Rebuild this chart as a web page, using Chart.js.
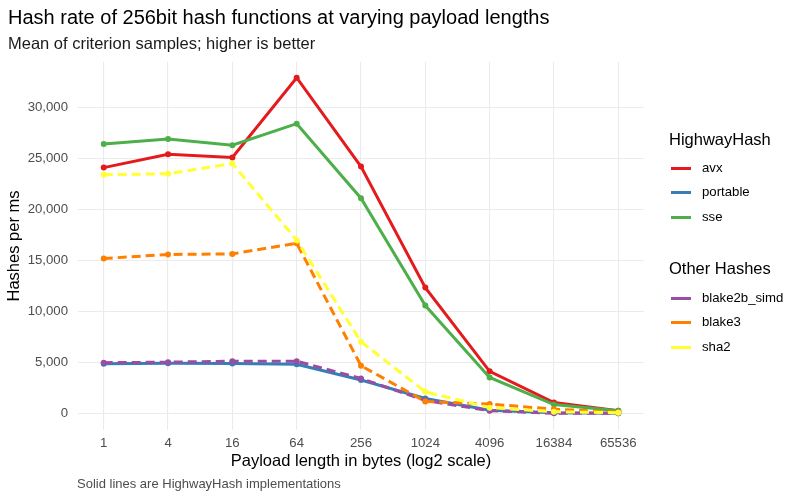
<!DOCTYPE html>
<html>
<head>
<meta charset="utf-8">
<script src="https://cdn.jsdelivr.net/npm/chart.js@4/dist/chart.umd.min.js"></script>
<style>
  html, body { margin: 0; padding: 0; background: #fff; }
  #wrap { position: relative; width: 800px; height: 500px; font-family: "Liberation Sans", Arial, sans-serif; }
  #c { position: absolute; left: 0; top: 0; }
  .t { position: absolute; white-space: nowrap; line-height: 1; }
  .key { position: absolute; width: 20px; height: 3px; }
</style>
</head>
<body>
<div id="wrap">
  <canvas id="c" width="800" height="500"></canvas>
  <div class="t" style="left:8px;top:7px;font-size:20px;color:#000;">Hash rate of 256bit hash functions at varying payload lengths</div>
  <div class="t" style="left:8px;top:35px;font-size:16.5px;color:#1a1a1a;">Mean of criterion samples; higher is better</div>
  <div class="t" style="left:77px;top:477px;font-size:13px;color:#4d4d4d;">Solid lines are HighwayHash implementations</div>
  <div id="legend"></div>
</div>
<script>
// ---- data ----
const payloadLengths = [1, 4, 16, 64, 256, 1024, 4096, 16384, 65536];
const yTickValues = [0, 5000, 10000, 15000, 20000, 25000, 30000];

const avx          = [24100, 25400, 25100, 32900, 24200, 12350, 4150, 1100, 300];
const portable     = [4900, 4950, 4920, 4850, 3300, 1500, 350, 100, 50];
const sse          = [26400, 26900, 26300, 28400, 21100, 10600, 3550, 900, 300];
const blake2b_simd = [5000, 5050, 5150, 5150, 3450, 1300, 300, 50, 50];
const blake3       = [15200, 15600, 15650, 16700, 4700, 1200, 950, 450, 150];
const sha2         = [23400, 23500, 24500, 17000, 7050, 2150, 600, 200, 100];

const seriesNames  = ["avx", "portable", "sse", "blake2b_simd", "blake3", "sha2"];
const seriesGroups = ["HighwayHash", "HighwayHash", "HighwayHash", "Other Hashes", "Other Hashes", "Other Hashes"];
const seriesValues = [avx, portable, sse, blake2b_simd, blake3, sha2];
const seriesColors = ["#E41A1C", "#377EB8", "#4DAF4A", "#984EA3", "#FF7F00", "#FFFF33"];

// ---- chart ----
const n = seriesNames.length;
const datasets = seriesNames.map((name, i) => ({
  label: name,
  data: payloadLengths.map((p, j) => ({ x: Math.log2(p), y: seriesValues[i][j] })),
  borderColor: seriesColors[i],
  backgroundColor: seriesColors[i],
  borderWidth: 3,
  borderDash: seriesGroups[i] === "HighwayHash" ? [] : [9, 5],
  pointRadius: 3,
  pointHoverRadius: 3,
  pointBorderWidth: 0,
  tension: 0,
  order: n - i
}));

Chart.defaults.font.family = '"Liberation Sans", Arial, sans-serif';

new Chart(document.getElementById('c'), {
  type: 'line',
  data: { datasets },
  options: {
    responsive: false,
    animation: false,
    layout: { padding: { top: 62, right: 156, bottom: 29, left: 0 } },
    plugins: { legend: { display: false }, tooltip: { enabled: false } },
    scales: {
      x: {
        type: 'linear',
        min: -0.8,
        max: 16.8,
        afterBuildTicks: s => { s.ticks = payloadLengths.map(p => ({ value: Math.log2(p) })); },
        afterFit: s => { s.height = 41; },
        ticks: {
          color: '#4d4d4d',
          font: { size: 13.2 },
          padding: 5,
          maxRotation: 0,
          autoSkip: false,
          callback: v => { const i = payloadLengths.findIndex(p => Math.abs(Math.log2(p) - v) < 1e-6); return i >= 0 ? String(payloadLengths[i]) : ''; }
        },
        grid: { color: '#ebebeb', lineWidth: 1.1, drawTicks: false },
        border: { display: false },
        title: { display: true, text: 'Payload length in bytes (log2 scale)', color: '#000', font: { size: 16.5 }, padding: { top: 0, bottom: 0 } }
      },
      y: {
        type: 'linear',
        min: -1590,
        max: 34440,
        afterBuildTicks: s => { s.ticks = yTickValues.map(v => ({ value: v })); },
        afterFit: s => { s.width = 78; },
        ticks: {
          color: '#4d4d4d',
          font: { size: 13.2 },
          padding: 10,
          callback: v => Number(v).toLocaleString('en-US')
        },
        grid: { color: '#ebebeb', lineWidth: 1.1, drawTicks: false },
        border: { display: false },
        title: { display: true, text: 'Hashes per ms', color: '#000', font: { size: 16.5 }, padding: { top: 5, bottom: 0 } }
      }
    }
  }
});

// ---- legend (HTML) ----
const legend = document.getElementById('legend');
const groupTitles = [["HighwayHash", 140], ["Other Hashes", 269]];
const entryY = [168, 192, 217, 298, 322, 347];
groupTitles.forEach(([t, y]) => {
  const d = document.createElement('div');
  d.className = 't';
  d.style.cssText = `left:669px;top:${y - 9}px;font-size:16.5px;color:#000;`;
  d.textContent = t;
  legend.appendChild(d);
});
seriesNames.forEach((name, i) => {
  const k = document.createElement('div');
  k.className = 'key';
  k.style.cssText = `left:671px;top:${entryY[i] - 1.5}px;background:${seriesColors[i]};`;
  legend.appendChild(k);
  const d = document.createElement('div');
  d.className = 't';
  d.style.cssText = `left:702px;top:${entryY[i] - 7.5}px;font-size:13.2px;color:#000;`;
  d.textContent = name;
  legend.appendChild(d);
});
</script>
</body>
</html>
